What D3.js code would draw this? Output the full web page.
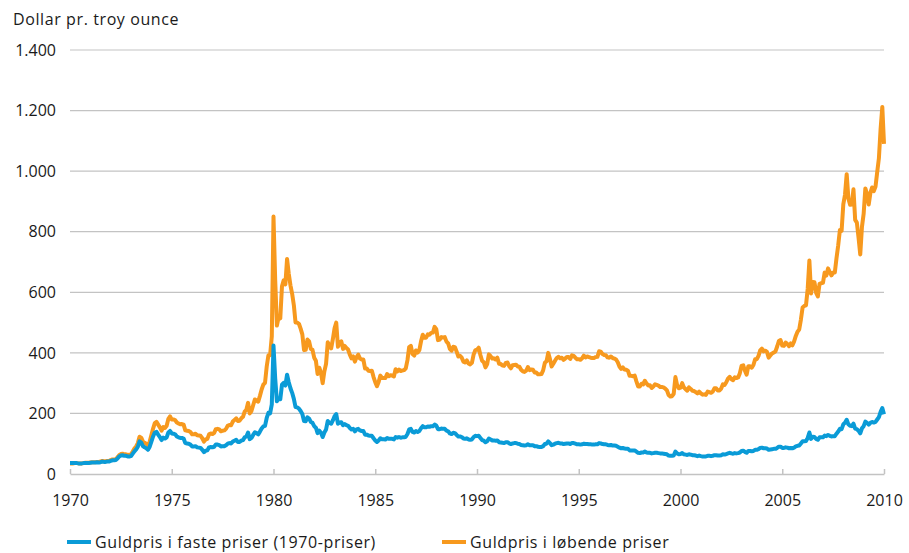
<!DOCTYPE html>
<html lang="da">
  <head>
    <meta charset="UTF-8" />
    <title>Guldpris</title>
    <style>
      body { margin: 0; background: #fff; }
      svg text { font-family: "Open Sans", "Noto Sans", sans-serif; fill: #1a1a1a; }
    </style>
  </head>
  <body>
    <svg width="909" height="553"></svg>

    <script src="https://d3js.org/d3.v7.min.js"></script>
    <script>
      // maanedlige vaerdier jan 1970 - jan 2010, en linje pr. aar
      var nominal = [
        35, 35, 35, 36, 36, 35, 35, 35, 36, 37, 37, 37,
        38, 39, 39, 39, 40, 40, 41, 43, 42, 42, 43, 43,
        46, 48, 48, 49, 55, 62, 66, 67, 65, 65, 63, 64,
        65, 74, 84, 91, 102, 123, 120, 107, 103, 100, 95, 107,
        129, 150, 168, 172, 163, 154, 143, 155, 152, 159, 182, 190,
        180, 180, 178, 170, 167, 164, 165, 163, 144, 143, 142, 139,
        131, 131, 133, 128, 127, 126, 118, 107, 114, 116, 131, 134,
        132, 136, 148, 149, 147, 141, 143, 144, 149, 159, 162, 161,
        173, 178, 184, 175, 176, 184, 189, 206, 212, 235, 200, 208,
        227, 246, 242, 239, 258, 279, 295, 301, 355, 392, 392, 455,
        850, 640, 490, 517, 514, 620, 640, 626, 710, 661, 623, 595,
        557, 500, 500, 496, 480, 461, 409, 410, 444, 438, 413, 410,
        384, 374, 330, 351, 334, 300, 339, 364, 435, 423, 415, 445,
        481, 500, 420, 433, 438, 413, 423, 416, 411, 394, 382, 388,
        371, 386, 394, 381, 378, 378, 348, 348, 341, 340, 341, 320,
        303, 290, 304, 325, 317, 317, 317, 330, 323, 326, 325, 322,
        346, 339, 345, 340, 342, 343, 349, 376, 419, 423, 396, 391,
        408, 401, 409, 438, 460, 450, 450, 461, 460, 466, 467, 486,
        478, 442, 444, 452, 451, 452, 437, 431, 413, 407, 420, 419,
        404, 388, 390, 384, 371, 368, 375, 365, 362, 367, 394, 409,
        410, 417, 393, 374, 369, 352, 363, 395, 389, 381, 382, 378,
        384, 364, 363, 358, 357, 367, 368, 356, 349, 359, 360, 361,
        355, 354, 344, 339, 337, 341, 353, 343, 345, 344, 335, 335,
        329, 329, 330, 342, 367, 372, 400, 380, 355, 364, 374, 383,
        387, 382, 384, 377, 381, 386, 386, 380, 392, 390, 384, 379,
        379, 377, 382, 391, 385, 388, 386, 384, 383, 383, 386, 387,
        405, 404, 396, 393, 392, 385, 384, 388, 383, 381, 378, 369,
        355, 347, 352, 345, 344, 341, 324, 324, 323, 325, 306, 289,
        289, 298, 296, 308, 299, 292, 293, 284, 289, 296, 294, 292,
        287, 287, 286, 282, 276, 261, 256, 257, 265, 320, 293, 283,
        285, 300, 286, 280, 275, 286, 281, 275, 274, 270, 266, 272,
        266, 262, 263, 261, 272, 270, 268, 272, 283, 283, 276, 276,
        282, 296, 294, 303, 315, 321, 313, 310, 319, 317, 319, 333,
        357, 359, 341, 328, 356, 356, 351, 360, 379, 379, 390, 408,
        414, 405, 407, 403, 384, 392, 398, 401, 405, 421, 439, 442,
        424, 423, 434, 429, 422, 431, 425, 438, 456, 470, 477, 510,
        550, 555, 557, 611, 705, 596, 634, 633, 598, 586, 628, 630,
        631, 665, 655, 679, 667, 656, 665, 665, 713, 755, 806, 803,
        890, 922, 990, 910, 889, 890, 940, 839, 830, 780, 725, 816,
        859, 943, 924, 890, 929, 946, 934, 949, 997, 1043, 1140, 1212,
        1090
      ];

      var real = [
        36, 36, 36, 36, 36, 35, 35, 35, 36, 36, 36, 36,
        37, 38, 38, 38, 39, 38, 39, 41, 40, 40, 41, 41,
        43, 45, 45, 46, 51, 58, 61, 62, 60, 60, 58, 58,
        59, 67, 75, 81, 90, 108, 104, 92, 88, 85, 80, 90,
        107, 124, 137, 139, 130, 122, 112, 120, 117, 121, 137, 142,
        134, 133, 131, 124, 121, 119, 119, 117, 102, 101, 100, 97,
        91, 91, 92, 88, 87, 86, 80, 72, 77, 78, 88, 89,
        88, 90, 97, 97, 95, 91, 92, 92, 95, 100, 102, 101,
        107, 110, 113, 106, 106, 110, 112, 121, 124, 137, 115, 119,
        129, 138, 135, 131, 140, 150, 157, 159, 185, 202, 200, 230,
        424, 316, 240, 250, 247, 295, 301, 292, 328, 303, 283, 268,
        248, 221, 220, 216, 208, 198, 175, 174, 187, 183, 172, 169,
        158, 153, 135, 143, 136, 122, 137, 147, 175, 169, 166, 177,
        191, 198, 166, 170, 171, 161, 165, 161, 159, 152, 147, 149,
        141, 147, 149, 144, 142, 142, 130, 130, 127, 126, 126, 118,
        111, 106, 111, 118, 115, 115, 114, 119, 116, 116, 116, 114,
        122, 120, 122, 120, 121, 121, 123, 132, 147, 149, 139, 137,
        142, 139, 142, 151, 158, 154, 154, 157, 156, 158, 158, 163,
        160, 148, 148, 150, 149, 149, 143, 141, 134, 132, 136, 135,
        129, 124, 124, 122, 117, 116, 118, 114, 113, 114, 122, 126,
        125, 126, 119, 112, 110, 105, 108, 117, 114, 111, 111, 110,
        111, 105, 104, 103, 102, 105, 105, 101, 99, 101, 102, 102,
        100, 99, 96, 95, 94, 95, 98, 95, 95, 95, 92, 92,
        90, 89, 89, 92, 99, 100, 108, 102, 95, 97, 100, 102,
        103, 101, 101, 99, 100, 101, 101, 99, 102, 102, 100, 98,
        98, 97, 98, 100, 99, 99, 98, 98, 97, 97, 98, 98,
        102, 101, 99, 98, 98, 96, 95, 96, 94, 94, 93, 90,
        87, 85, 86, 84, 83, 83, 78, 78, 78, 78, 74, 70,
        69, 71, 71, 74, 71, 70, 70, 68, 69, 70, 70, 69,
        68, 68, 67, 66, 65, 61, 60, 60, 61, 74, 68, 65,
        66, 69, 65, 64, 63, 65, 64, 62, 62, 61, 59, 61,
        59, 58, 58, 58, 60, 60, 59, 60, 62, 62, 61, 61,
        62, 65, 64, 66, 68, 70, 68, 67, 69, 68, 69, 71,
        76, 77, 73, 70, 76, 76, 75, 76, 80, 80, 82, 86,
        87, 85, 85, 84, 80, 81, 82, 83, 83, 86, 90, 90,
        86, 86, 88, 87, 85, 86, 85, 87, 91, 93, 94, 101,
        108, 108, 109, 119, 137, 116, 123, 122, 116, 113, 121, 121,
        121, 127, 125, 129, 126, 124, 125, 125, 133, 140, 149, 148,
        164, 169, 179, 164, 159, 158, 166, 150, 148, 143, 134, 151,
        158, 173, 169, 163, 169, 172, 170, 172, 180, 188, 205, 218,
        197
      ];

      var xTicks = [1970, 1975, 1980, 1985, 1990, 1995, 2000, 2005, 2010];
      var yTicks = [0, 200, 400, 600, 800, 1000, 1200, 1400];
      var seriesNames = ["Guldpris i faste priser (1970-priser)", "Guldpris i løbende priser"];
      var colors = ["#0a9bd7", "#f7991e"];

      (function () {
        "use strict";

        var svg = d3.select("svg");
        var plotLeft = 70, plotRight = 884, plotTop = 50, plotBottom = 474;

        var x = d3.scaleLinear().domain([1970, 2010]).range([plotLeft, plotRight]);
        var y = d3.scaleLinear().domain([0, 1400]).range([plotBottom, plotTop]);

        var fmt = function (d) {
          return d3.format(",")(d).replace(/,/g, ".");
        };

        // gitterlinjer
        svg.append("g")
          .selectAll("line")
          .data(yTicks.filter(function (d) { return d > 0; }))
          .enter()
          .append("line")
          .attr("x1", plotLeft)
          .attr("x2", plotRight)
          .attr("y1", function (d) { return y(d); })
          .attr("y2", function (d) { return y(d); })
          .attr("stroke", "#c3c3c3")
          .attr("stroke-width", 1.2);

        // y-etiketter
        svg.append("g")
          .selectAll("text")
          .data(yTicks)
          .enter()
          .append("text")
          .attr("x", 56)
          .attr("y", function (d) { return y(d); })
          .attr("dy", "0.36em")
          .attr("text-anchor", "end")
          .attr("font-size", 16)
          .text(fmt);

        svg.append("text")
          .attr("x", 13)
          .attr("y", 25)
          .attr("font-size", 16)
          .attr("letter-spacing", 0.6)
          .text("Dollar pr. troy ounce");

        // x-akse
        var xAxis = d3.axisBottom(x)
          .tickValues(xTicks)
          .tickFormat(d3.format("d"))
          .tickSizeInner(-5)
          .tickSizeOuter(0)
          .tickPadding(21);

        var gx = svg.append("g")
          .attr("transform", "translate(0," + plotBottom + ")")
          .call(xAxis);
        gx.select(".domain").attr("stroke", "#c3c3c3").attr("stroke-width", 1.5);
        gx.selectAll(".tick line").attr("stroke", "#c3c3c3").attr("stroke-width", 1.5);
        gx.selectAll(".tick text")
          .attr("font-size", 16)
          .attr("font-family", "'Open Sans', 'Noto Sans', sans-serif")
          .attr("fill", "#1a1a1a");

        // linjer
        var line = d3.line()
          .x(function (d, i) { return x(1970 + i / 12); })
          .y(function (d) { return y(d); });

        [nominal, real].forEach(function (s, k) {
          svg.append("path")
            .datum(s)
            .attr("fill", "none")
            .attr("stroke", k === 0 ? colors[1] : colors[0])
            .attr("stroke-width", 4)
            .attr("stroke-linejoin", "round")
            .attr("d", line);
        });

        // legende
        var legendX = [67, 442];
        var legend = svg.append("g")
          .selectAll("g")
          .data(seriesNames)
          .enter()
          .append("g")
          .attr("transform", function (d, i) { return "translate(" + legendX[i] + ",542)"; });

        legend.append("line")
          .attr("x1", 0)
          .attr("x2", 24)
          .attr("stroke", function (d, i) { return colors[i]; })
          .attr("stroke-width", 4);

        legend.append("text")
          .attr("x", 28)
          .attr("dy", "0.36em")
          .attr("font-size", 16)
          .attr("letter-spacing", 0.6)
          .text(function (d) { return d; });
      })();
    </script>
  </body>
</html>
